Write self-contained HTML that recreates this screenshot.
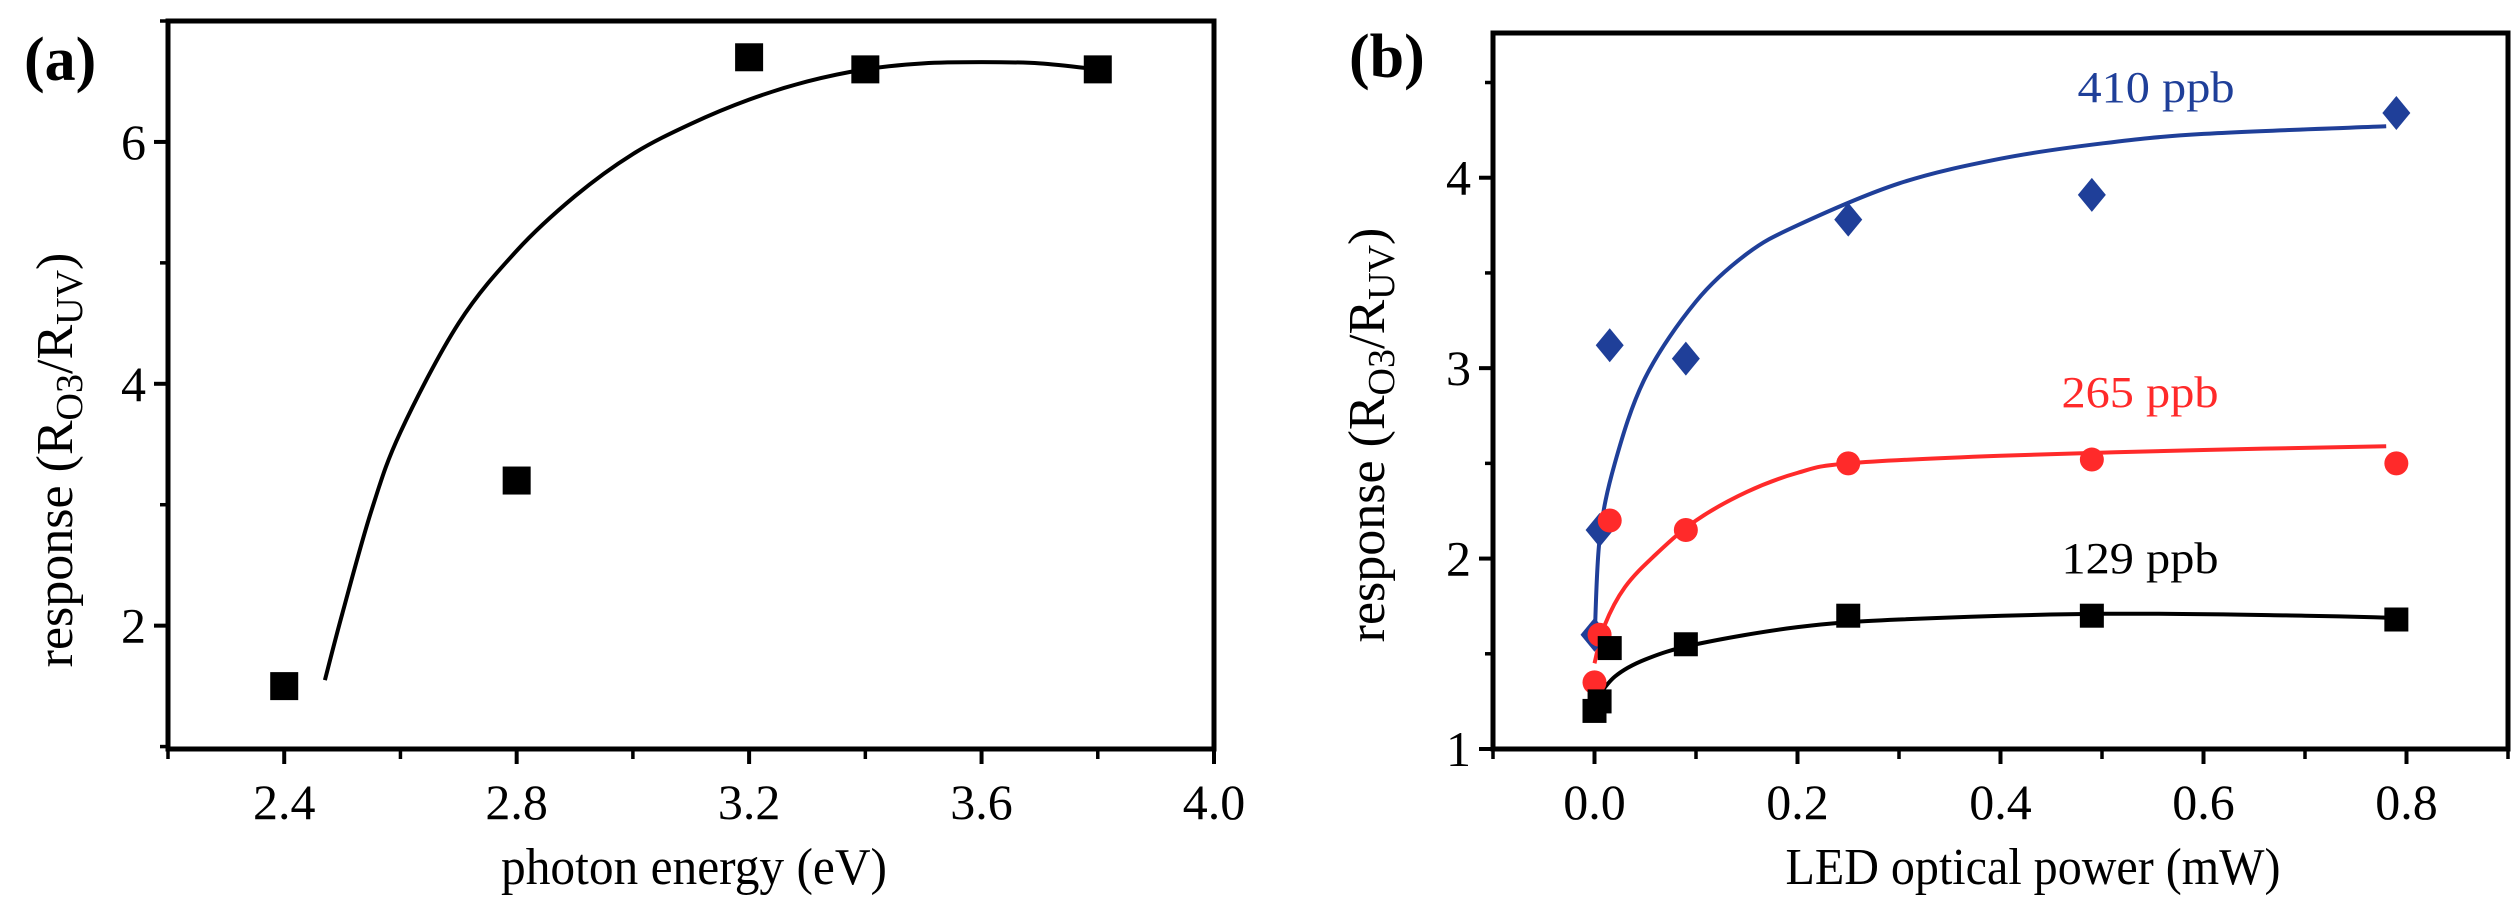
<!DOCTYPE html>
<html><head><meta charset="utf-8">
<style>
html,body{margin:0;padding:0;background:#fff;}
svg{display:block;font-family:"Liberation Serif",serif;}
</style></head>
<body>
<svg id="chart" width="2516" height="908" viewBox="0 0 2516 908" xmlns="http://www.w3.org/2000/svg"></svg>
<script>
// Panel (a) data
const aX = [2.4, 2.8, 3.2, 3.4, 3.8];
const aY = [1.5, 3.2, 6.7, 6.6, 6.6];
const aFitX = [2.47,2.5,2.55,2.6,2.7,2.8,2.9,3.0,3.1,3.2,3.3,3.4,3.5,3.6,3.7,3.8];
const aFitY = [1.55,2.1,2.95,3.6,4.5,5.1,5.55,5.9,6.15,6.35,6.5,6.6,6.65,6.66,6.65,6.6];
const aXTicks = [2.4, 2.8, 3.2, 3.6, 4.0];
const aXTickLabels = ["2.4","2.8","3.2","3.6","4.0"];
const aYTicks = [2, 4, 6];
const aYTickLabels = ["2","4","6"];
// Panel (b) data
const bX = [0, 0.005, 0.015, 0.09, 0.25, 0.49, 0.79];
const b410 = [1.6, 2.15, 3.12, 3.05, 3.78, 3.91, 4.34];
const b265 = [1.35, 1.6, 2.2, 2.15, 2.5, 2.52, 2.5];
const b129 = [1.2, 1.25, 1.53, 1.55, 1.7, 1.7, 1.68];
const fit410X = [0,0.005,0.02,0.05,0.1,0.15,0.2,0.3,0.4,0.5,0.6,0.78];
const fit410Y = [1.55,2.1,2.5,2.95,3.35,3.6,3.75,3.97,4.1,4.18,4.23,4.27];
const fit265X = [0,0.01,0.03,0.06,0.1,0.15,0.2,0.25,0.4,0.6,0.78];
const fit265Y = [1.45,1.65,1.85,2.02,2.2,2.35,2.45,2.5,2.54,2.57,2.59];
const fit129X = [0,0.02,0.05,0.1,0.2,0.3,0.5,0.7,0.78];
const fit129Y = [1.25,1.38,1.47,1.55,1.64,1.68,1.71,1.7,1.69];
const bXTicks = [0, 0.2, 0.4, 0.6, 0.8];
const bXTickLabels = ["0.0","0.2","0.4","0.6","0.8"];
const bYTicks = [1, 2, 3, 4];
const bYTickLabels = ["1","2","3","4"];

const NS = "http://www.w3.org/2000/svg";
const svg = document.getElementById('chart');
function mk(tag, attrs, parent){const e=document.createElementNS(NS,tag);for(const k in attrs)e.setAttribute(k,attrs[k]);(parent||svg).appendChild(e);return e;}

const A = {x0:168,x1:1214,y0:749,y1:21,xmin:2.2,xmax:4.0,ymin:0.98,ymax:7};
const B = {x0:1493,x1:2508,y0:749,y1:33,xmin:-0.1,xmax:0.9,ymin:1,ymax:4.76};
function sx(P,v){return P.x0+(v-P.xmin)/(P.xmax-P.xmin)*(P.x1-P.x0);}
function sy(P,v){return P.y0-(v-P.ymin)/(P.ymax-P.ymin)*(P.y0-P.y1);}

function smoothPath(P,xs,ys){
  const pts=xs.map((x,i)=>[sx(P,x),sy(P,ys[i])]);
  let d=`M${pts[0][0]},${pts[0][1]}`;
  for(let i=0;i<pts.length-1;i++){
    const p0=pts[Math.max(0,i-1)],p1=pts[i],p2=pts[i+1],p3=pts[Math.min(pts.length-1,i+2)];
    const c1=[p1[0]+(p2[0]-p0[0])/6,p1[1]+(p2[1]-p0[1])/6];
    const c2=[p2[0]-(p3[0]-p1[0])/6,p2[1]-(p3[1]-p1[1])/6];
    d+=` C${c1[0]},${c1[1]} ${c2[0]},${c2[1]} ${p2[0]},${p2[1]}`;
  }
  return d;
}

function axes(P,name,xt,xtl,yt,ytl,xminor,yminor){
  const g=mk('g',{});
  
  
  const fr=mk('rect',{x:P.x0,y:P.y1,width:P.x1-P.x0,height:P.y0-P.y1,fill:'none',stroke:'#000','stroke-width':5},g);
  
  
  xt.forEach((v,i)=>{
    const x=sx(P,v);
    mk('line',{x1:x,y1:P.y0,x2:x,y2:P.y0+15,stroke:'#000','stroke-width':4},g);
    const t=mk('text',{x:x,y:819,'font-size':50,'text-anchor':'middle'},g);
    t.textContent=xtl[i];
    
    
  });
  xminor.forEach(v=>{const x=sx(P,v);mk('line',{x1:x,y1:P.y0,x2:x,y2:P.y0+10,stroke:'#000','stroke-width':3.5},g);});
  yt.forEach((v,i)=>{
    const y=sy(P,v);
    mk('line',{x1:P.x0-14,y1:y,x2:P.x0,y2:y,stroke:'#000','stroke-width':4},g);
    const t=mk('text',{x:P.x0-22,y:y+17,'font-size':50,'text-anchor':'end'},g);
    t.textContent=ytl[i];
    
    
  });
  yminor.forEach(v=>{const y=sy(P,v);mk('line',{x1:P.x0-8,y1:y,x2:P.x0,y2:y,stroke:'#000','stroke-width':3.5},g);});
}

// Panel a
axes(A,'panel-a',aXTicks,aXTickLabels,aYTicks,aYTickLabels,[2.2,2.6,3.0,3.4,3.8],[1,3,5,7]);
const fa=mk('path',{d:smoothPath(A,aFitX,aFitY),fill:'none',stroke:'#000','stroke-width':4});


aX.forEach((x,i)=>{
  const r=mk('rect',{x:sx(A,x)-14,y:sy(A,aY[i])-14,width:28,height:28,fill:'#000'});
  
  
});

// Panel b
axes(B,'panel-b',bXTicks,bXTickLabels,bYTicks,bYTickLabels,[-0.1,0.1,0.3,0.5,0.7,0.9],[1.5,2.5,3.5,4.5]);
[[fit410X,fit410Y,'#1f3f99','fit-410'],[fit265X,fit265Y,'#ff2a2a','fit-265'],[fit129X,fit129Y,'#000','fit-129']].forEach(f=>{
  const p=mk('path',{d:smoothPath(B,f[0],f[1]),fill:'none',stroke:f[2],'stroke-width':4});
  
  
});
bX.forEach((x,i)=>{
  const cx=sx(B,x);
  const r=mk('rect',{x:cx-12,y:sy(B,b129[i])-12,width:24,height:24,fill:'#000'});
  
  
  const c=mk('circle',{cx:cx,cy:sy(B,b265[i]),r:12,fill:'#ff2a2a'});
  
  
  const y=sy(B,b410[i]);
  const d=mk('polygon',{points:`${cx},${y-17} ${cx+14},${y} ${cx},${y+17} ${cx-14},${y}`,fill:'#1f3f99'});
  
  
});

function txt(s,attrs,name){const t=mk('text',attrs);t.textContent=s;return t;}
txt('(a)',{x:24,y:80,'font-size':62,'font-weight':'bold'},'panel-a-label');
txt('(b)',{x:1349,y:77,'font-size':62,'font-weight':'bold'},'panel-b-label');
txt('photon energy (eV)',{x:694,y:884,'font-size':52,'text-anchor':'middle',textLength:386,lengthAdjust:'spacingAndGlyphs'},'panel-a-x-axis-title');
txt('LED optical power (mW)',{x:2033,y:884,'font-size':52,'text-anchor':'middle',textLength:495,lengthAdjust:'spacingAndGlyphs'},'panel-b-x-axis-title');
txt('410 ppb',{x:2156,y:102,'font-size':44,'text-anchor':'middle',fill:'#1f3f99',textLength:157,lengthAdjust:'spacingAndGlyphs'},'label-410ppb');
txt('265 ppb',{x:2140,y:407,'font-size':44,'text-anchor':'middle',fill:'#ff2a2a',textLength:157,lengthAdjust:'spacingAndGlyphs'},'label-265ppb');
txt('129 ppb',{x:2140,y:573,'font-size':44,'text-anchor':'middle',fill:'#000',textLength:157,lengthAdjust:'spacingAndGlyphs'},'label-129ppb');

function ytitle(x,cy,name){
  const t=mk('text',{transform:`translate(${x},${cy}) rotate(-90)`,'font-size':52,'text-anchor':'middle'});
  
  
  t.innerHTML='response (R<tspan font-size="38" dy="10">O3</tspan><tspan dy="-10">/R</tspan><tspan font-size="38" dy="10">UV</tspan><tspan dy="-10">)</tspan>';
}
ytitle(72,460,'panel-a-y-axis-title');
ytitle(1384,435,'panel-b-y-axis-title');
</script>
</body></html>
